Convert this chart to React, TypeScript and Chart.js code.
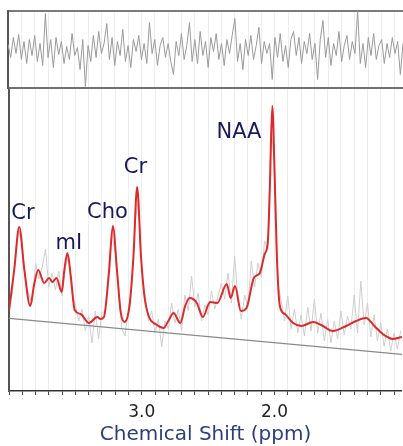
import React, { useEffect, useRef } from 'react';
import { Chart, registerables } from 'chart.js';

Chart.register(...registerables);

// ---- axis range (ppm, reversed) ----
const X_MIN = 1.04;
const X_MAX = 4.0;
const tickPpm = [4.0, 3.9, 3.8, 3.7, 3.6, 3.5, 3.4, 3.3, 3.2, 3.1, 3.0, 2.9, 2.8, 2.7, 2.6, 2.5, 2.4, 2.3, 2.2, 2.1, 2.0, 1.9, 1.8, 1.7, 1.6, 1.5, 1.4, 1.3, 1.2, 1.1];
const labeledTicks = [3.0, 2.0];
const axisTitle = 'Chemical Shift (ppm)';

// ---- fitted spectrum (red) ----
const fitPpm = [4.0, 3.96, 3.923, 3.885, 3.84, 3.8125, 3.78, 3.735, 3.698, 3.672, 3.642, 3.603, 3.584, 3.56, 3.535, 3.505, 3.46, 3.398, 3.335, 3.31, 3.285, 3.2475, 3.218, 3.185, 3.16, 3.13, 3.0925, 3.0625, 3.035, 3.006, 2.98, 2.948, 2.885, 2.835, 2.8, 2.76, 2.71, 2.673, 2.64, 2.585, 2.54, 2.485, 2.431, 2.36, 2.33, 2.298, 2.253, 2.211, 2.156, 2.111, 2.074, 2.05, 2.035, 2.017, 1.997, 1.9825, 1.96, 1.9225, 1.86, 1.798, 1.709, 1.648, 1.561, 1.461, 1.386, 1.311, 1.248, 1.185, 1.11, 1.04];
const fitVal = [80, 122, 164, 122, 85, 105, 121, 108, 113, 109, 113, 99, 120, 138, 115, 81, 77, 68, 74, 72, 74, 118, 165, 118, 80, 69, 85, 135, 204, 135, 95, 75, 66, 63, 70, 78, 68, 85, 93, 88, 74, 89, 88, 107, 93, 105, 80, 83, 113, 118, 137, 150, 205, 285, 205, 135, 85, 77, 68, 65, 69, 66, 60, 65, 70, 73, 65, 57, 52, 54];

// ---- measured spectrum (light gray), uniform sampling ----
const rawStart = 4.0;
const rawStep = 0.025;
const rawVal = [84, 98, 140, 160, 146, 108, 96, 88, 128, 112, 124, 142, 104, 118, 101, 120, 95, 124, 136, 98, 86, 70, 82, 60, 75, 48, 80, 52, 78, 80, 121, 158, 136, 106, 62, 55, 84, 104, 170, 192, 118, 96, 70, 80, 58, 72, 44, 70, 62, 88, 68, 82, 60, 96, 80, 115, 84, 98, 70, 86, 76, 100, 82, 95, 108, 92, 118, 88, 135, 90, 72, 96, 84, 130, 104, 128, 114, 150, 142, 262, 226, 108, 90, 70, 95, 62, 82, 58, 76, 55, 84, 60, 92, 58, 78, 50, 72, 48, 70, 52, 80, 56, 75, 62, 96, 58, 110, 66, 88, 54, 76, 50, 68, 45, 62, 40, 58, 42, 60];

// ---- baseline (gray straight line) ----
const basePpm = [4.0, 1.04];
const baseVal = [72.7, 36.7];

// ---- residual (top panel), uniform sampling ----
const resStart = 4.0;
const resStep = 0.02;
const resVal = [5, -8, 12, -4, 15, -10, 8, -14, 10, -6,
  14, -12, 6, -16, 36, -8, 10, -18, 12, -5,
  8, -14, 3, -10, 16, -6, 2, -20, 10, -37,
  4, -12, 14, -8, 18, -4, 6, 26, -10, 12,
  -16, 8, -6, 20, -12, 4, -18, 10, -2, 14,
  -10, 6, -14, 27, -4, 10, -16, 4, 12, -8,
  6, -12, -25, 8, -6, 16, -10, 4, 27, -12,
  10, -14, 18, -6, 8, -18, 12, -2, 16, -10,
  6, -16, 10, -4, 14, 31, -12, 6, -20, 10,
  -6, 14, -10, 4, 22, -14, 8, -4, 6, -30,
  12, -8, 16, -12, 4, -18, 10, 18, -6, 12,
  -14, 8, -4, 16, -10, 6, -30, 10, 29, -8,
  12, -16, 6, -6, 18, -12, 4, 14, -10, 8,
  -4, 38, -14, 6, -18, 12, -6, 16, -10, 4,
  10, -14, 6, -8, 12, -4, 8, -25, 6];

// ---- peak labels ----
const peakNames = ['Cr', 'mI', 'Cho', 'Cr', 'NAA'];
const peakLabelPpm = [3.895, 3.55, 3.258, 3.048, 2.268];
const peakLabelVal = [172, 142, 173, 218, 253];

const FONT = '"DejaVu Sans", Verdana, sans-serif';
const GRID = 'rgba(0,0,0,0.07)';

const peakLabelPlugin = {
  id: 'peakLabels',
  afterDatasetsDraw(chart: any) {
    const { ctx, scales } = chart;
    const x = scales.x;
    const y = scales.y;
    ctx.save();
    ctx.font = `21px ${FONT}`;
    ctx.fillStyle = '#161a5c';
    ctx.textAlign = 'center';
    ctx.textBaseline = 'alphabetic';
    peakNames.forEach((n, i) => {
      ctx.fillText(n, x.getPixelForValue(peakLabelPpm[i]), y.getPixelForValue(peakLabelVal[i]));
    });
    ctx.restore();
  },
};

const setTicks = (scale: any) => {
  scale.ticks = tickPpm.map((v) => ({ value: v }));
};

export default function App() {
  const topRef = useRef<HTMLCanvasElement>(null);
  const botRef = useRef<HTMLCanvasElement>(null);

  useEffect(() => {
    const top = new Chart(topRef.current as HTMLCanvasElement, {
      type: 'line',
      data: {
        datasets: [
          {
            data: resVal.map((v, i) => ({ x: resStart - i * resStep, y: v })),
            borderColor: '#9a9a9a',
            borderWidth: 1,
            pointRadius: 0,
            tension: 0,
          },
        ],
      },
      options: {
        animation: false,
        responsive: true,
        maintainAspectRatio: false,
        layout: { padding: { left: 8, top: 11, right: 0, bottom: 1 } },
        plugins: { legend: { display: false }, tooltip: { enabled: false } },
        scales: {
          x: {
            type: 'linear',
            min: X_MIN,
            max: X_MAX,
            reverse: true,
            afterBuildTicks: setTicks,
            ticks: { display: false },
            grid: { color: GRID, drawTicks: false },
            border: { display: true, color: '#6f6f6f', width: 2 },
          },
          x2: {
            type: 'linear',
            position: 'top',
            min: X_MIN,
            max: X_MAX,
            reverse: true,
            ticks: { display: false },
            grid: { display: false, drawTicks: false },
            border: { display: true, color: '#7a7a7a', width: 2 },
          },
          y: {
            min: -38.5,
            max: 38.5,
            ticks: { display: false },
            grid: { display: false, drawTicks: false },
            border: { display: true, color: '#555', width: 2 },
          },
        },
      },
    } as any);

    const bot = new Chart(botRef.current as HTMLCanvasElement, {
      type: 'line',
      data: {
        datasets: [
          {
            data: fitPpm.map((p, i) => ({ x: p, y: fitVal[i] })),
            borderColor: '#dd2a2a',
            borderWidth: 2,
            pointRadius: 0,
            cubicInterpolationMode: 'monotone',
          },
          {
            data: basePpm.map((p, i) => ({ x: p, y: baseVal[i] })),
            borderColor: '#8a8a8a',
            borderWidth: 1.2,
            pointRadius: 0,
          },
          {
            data: rawVal.map((v, i) => ({ x: rawStart - i * rawStep, y: v })),
            borderColor: '#cfcfcf',
            borderWidth: 1,
            pointRadius: 0,
            tension: 0,
          },
        ],
      },
      options: {
        animation: false,
        responsive: true,
        maintainAspectRatio: false,
        layout: { padding: { left: 8, top: 0, right: 0, bottom: 0 } },
        plugins: { legend: { display: false }, tooltip: { enabled: false } },
        scales: {
          x: {
            type: 'linear',
            min: X_MIN,
            max: X_MAX,
            reverse: true,
            afterBuildTicks: setTicks,
            ticks: {
              autoSkip: false,
              maxRotation: 0,
              padding: 9,
              color: '#222',
              font: { family: FONT, size: 17, lineHeight: 1 },
              callback: (v: any) => {
                const t = labeledTicks.find((l) => Math.abs(l - Number(v)) < 1e-6);
                return t === undefined ? '' : t.toFixed(1);
              },
            },
            grid: { color: GRID, tickColor: '#444', tickLength: 4, drawTicks: true },
            border: { display: true, color: '#333', width: 1.5 },
            title: {
              display: true,
              text: axisTitle,
              color: '#2c3e7c',
              font: { family: FONT, size: 20, lineHeight: 1.1 },
              padding: { top: -6, bottom: 0 },
            },
          },
          y: {
            min: 0,
            max: 302,
            ticks: { display: false },
            grid: { display: false, drawTicks: false },
            border: { display: true, color: '#555', width: 2 },
          },
        },
      },
      plugins: [peakLabelPlugin],
    } as any);

    return () => {
      top.destroy();
      bot.destroy();
    };
  }, []);

  return (
    <div style={{ position: 'fixed', left: 0, top: 0, width: 403, height: 446, background: '#fff' }}>
      <div style={{ position: 'absolute', left: 0, top: 0, width: 403, height: 89 }}>
        <canvas ref={topRef} />
      </div>
      <div style={{ position: 'absolute', left: 0, top: 89, width: 403, height: 357 }}>
        <canvas ref={botRef} />
      </div>
    </div>
  );
}
